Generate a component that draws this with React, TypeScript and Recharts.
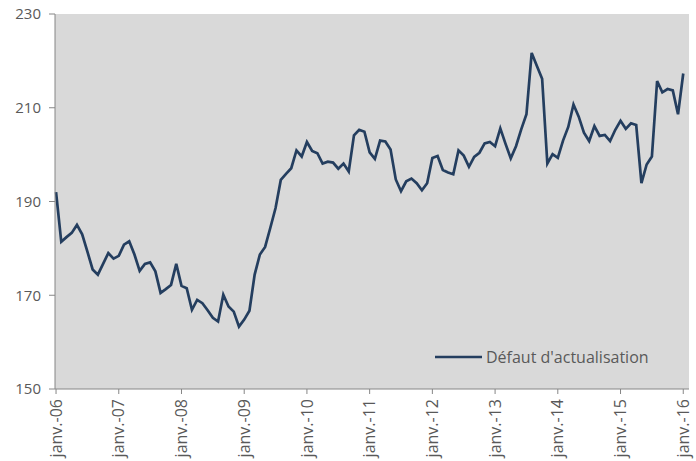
import { LineChart, Line, XAxis, YAxis, CartesianGrid, Legend } from 'recharts'

// Monthly values, janv. 2006 -> janv. 2016
const values2006 = [192.0, 181.4, 182.4, 183.3, 185.0, 183.0, 179.3, 175.5, 174.4, 176.7, 179.0, 177.8]
const values2007 = [178.4, 180.8, 181.5, 178.7, 175.2, 176.7, 177.0, 175.1, 170.5, 171.3, 172.2, 176.7]
const values2008 = [172.0, 171.5, 166.9, 169.0, 168.3, 166.8, 165.2, 164.4, 170.1, 167.6, 166.5, 163.3]
const values2009 = [164.8, 166.7, 174.4, 178.7, 180.3, 184.4, 188.6, 194.6, 195.9, 197.1, 200.9, 199.6]
const values2010 = [202.7, 200.8, 200.3, 198.1, 198.5, 198.3, 197.0, 198.1, 196.4, 204.1, 205.3, 204.9]
const values2011 = [200.5, 199.1, 203.0, 202.8, 201.1, 194.7, 192.2, 194.3, 194.9, 193.9, 192.4, 193.9]
const values2012 = [199.3, 199.7, 196.7, 196.2, 195.8, 200.9, 199.8, 197.4, 199.5, 200.4, 202.4, 202.7]
const values2013 = [201.8, 205.6, 202.3, 199.2, 201.8, 205.4, 208.6, 221.7, 218.9, 216.2, 198.1, 200.1]
const values2014 = [199.3, 203.0, 205.9, 210.7, 208.1, 204.7, 202.9, 206.1, 204.0, 204.2, 202.9, 205.3]
const values2015 = [207.2, 205.5, 206.7, 206.3, 193.9, 197.9, 199.6, 215.7, 213.3, 214.0, 213.7, 208.6]
const values2016 = [217.3]

const seriesName = "Défaut d'actualisation"
const yearLabels = ['06', '07', '08', '09', '10', '11', '12', '13', '14', '15', '16']
const yTicks = [150, 170, 190, 210, 230]

const allValues = [
  ...values2006, ...values2007, ...values2008, ...values2009, ...values2010, ...values2011,
  ...values2012, ...values2013, ...values2014, ...values2015, ...values2016,
]
const data = allValues.map((v, i) => ({ month: i, value: v }))
const xTicks = yearLabels.map((_, i) => i * 12)

const FONT = '"Open Sans", "DejaVu Sans", sans-serif'
const TEXT_COLOR = '#595959'
const AXIS_COLOR = '#868686'
const LINE_COLOR = '#243e5f'

function XTick({ x, y, payload }: { x?: number; y?: number; payload?: { value: number } }) {
  const label = `janv.-${yearLabels[Math.round((payload?.value ?? 0) / 12)]}`
  return (
    <g transform={`translate(${x},${y})`}>
      <text
        x={0}
        y={0}
        dy="0.35em"
        textAnchor="end"
        transform="rotate(-90)"
        fill={TEXT_COLOR}
        fontSize={16}
        fontFamily={FONT}
      >
        {label}
      </text>
    </g>
  )
}

function LegendContent() {
  return (
    <div style={{ display: 'flex', alignItems: 'center', fontFamily: FONT, fontSize: 16, color: TEXT_COLOR }}>
      <svg width={48} height={10}>
        <line x1={0} y1={5} x2={47} y2={5} stroke={LINE_COLOR} strokeWidth={2.5} />
      </svg>
      <span style={{ marginLeft: 3, whiteSpace: 'nowrap' }}>{seriesName}</span>
    </div>
  )
}

export default function App() {
  return (
    <div style={{ position: 'absolute', left: 0, top: 0 }}>
      <LineChart width={696} height={461} data={data} margin={{ top: 14, right: 7, left: 1, bottom: 0 }}>
        <CartesianGrid fill="#d9d9d9" stroke="none" />
        <XAxis
          dataKey="month"
          type="number"
          domain={[-0.2, 121.1]}
          ticks={xTicks}
          interval={0}
          height={72}
          stroke={AXIS_COLOR}
          tickSize={5}
          tickMargin={5}
          tick={<XTick />}
        />
        <YAxis
          domain={[150, 230]}
          ticks={yTicks}
          interval={0}
          width={54}
          stroke={AXIS_COLOR}
          tickSize={6}
          tickMargin={8}
          tick={{ fill: TEXT_COLOR, fontSize: 15, fontFamily: FONT }}
        />
        <Legend
          layout="horizontal"
          verticalAlign="middle"
          align="center"
          content={<LegendContent />}
          wrapperStyle={{ left: 435, top: 346, width: 'auto', bottom: 'auto' }}
        />
        <Line
          type="linear"
          dataKey="value"
          name={seriesName}
          stroke={LINE_COLOR}
          strokeWidth={2.7}
          dot={false}
          isAnimationActive={false}
        />
      </LineChart>
    </div>
  )
}
